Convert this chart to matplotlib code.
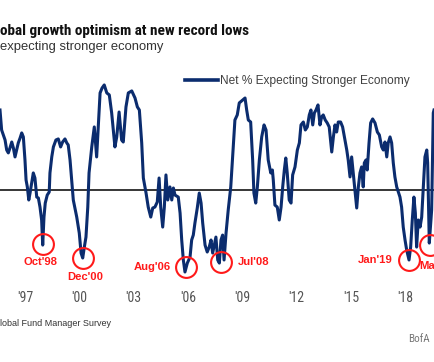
import matplotlib
matplotlib.use("Agg")
import matplotlib.pyplot as plt

# Net % of FMS investors expecting a stronger economy
dates = [
    1996.33, 1996.42, 1996.61, 1996.70, 1996.79, 1996.88, 1996.98, 1997.07, 1997.16, 1997.25,
    1997.34, 1997.44, 1997.53, 1997.62, 1997.71, 1997.77, 1997.84, 1997.92, 1997.99, 1998.08,
    1998.17, 1998.26, 1998.36, 1998.45, 1998.54, 1998.63, 1998.69, 1998.76, 1998.83, 1998.94,
    1999.05, 1999.09, 1999.19, 1999.28, 1999.42, 1999.55, 1999.68, 1999.79, 1999.92, 2000.02,
    2000.10, 2000.20, 2000.29, 2000.38, 2000.57, 2000.71, 2000.81, 2000.90, 2000.99, 2001.08,
    2001.18, 2001.25, 2001.40, 2001.54, 2001.67, 2001.86, 2001.97, 2002.09, 2002.23, 2002.37,
    2002.50, 2002.68, 2002.78, 2002.91, 2003.05, 2003.14, 2003.29, 2003.42, 2003.61, 2003.79,
    2003.92, 2004.03, 2004.16, 2004.25, 2004.40, 2004.52, 2004.66, 2004.77, 2004.89, 2005.02,
    2005.12, 2005.21, 2005.32, 2005.41, 2005.50, 2005.60, 2005.72, 2005.82, 2005.91, 2006.00,
    2006.18, 2006.28, 2006.37, 2006.46, 2006.55, 2006.68, 2006.83, 2006.92, 2007.01, 2007.10,
    2007.23, 2007.34, 2007.44, 2007.53, 2007.66, 2007.78, 2007.89, 2007.99, 2008.08, 2008.17,
    2008.26, 2008.36, 2008.45, 2008.54, 2008.63, 2008.71, 2008.82, 2008.94, 2009.08, 2009.22,
    2009.31, 2009.44, 2009.55, 2009.74, 2009.87, 2009.96, 2010.05, 2010.18, 2010.29, 2010.36,
    2010.46, 2010.55, 2010.66, 2010.79, 2010.92, 2011.03, 2011.15, 2011.29, 2011.38, 2011.43,
    2011.52, 2011.65, 2011.76, 2011.86, 2011.95, 2012.04, 2012.12, 2012.20, 2012.31, 2012.41,
    2012.50, 2012.63, 2012.76, 2012.87, 2012.96, 2013.09, 2013.20, 2013.31, 2013.42, 2013.51,
    2013.61, 2013.70, 2013.79, 2013.90, 2014.01, 2014.10, 2014.19, 2014.30, 2014.41, 2014.52,
    2014.66, 2014.75, 2014.84, 2014.93, 2015.02, 2015.15, 2015.26, 2015.39, 2015.49, 2015.57,
    2015.67, 2015.76, 2015.85, 2015.94, 2016.04, 2016.13, 2016.22, 2016.31, 2016.40, 2016.46,
    2016.55, 2016.62, 2016.72, 2016.81, 2016.92, 2017.05, 2017.18, 2017.29, 2017.42, 2017.51,
    2017.60, 2017.70, 2017.78, 2017.88, 2017.97, 2018.06, 2018.15, 2018.25, 2018.34, 2018.43,
    2018.52, 2018.61, 2018.71, 2018.80, 2018.93, 2019.02, 2019.11, 2019.20, 2019.28, 2019.35,
    2019.44, 2019.54, 2019.63, 2019.72, 2019.81, 2019.91, 2019.96, 2020.05, 2020.18, 2020.27,
    2020.31,
]
net_pct = [
    60.0, 45.0, 37.5, 30.0, 27.8, 31.5, 36.0, 31.5, 24.8, 30.0,
    35.3, 39.0, 42.8, 39.8, 22.5, 7.5, 2.3, -7.5, -2.3, 5.3,
    12.8, 9.0, -5.3, -6.0, -12.8, -22.5, -41.3, -20.3, -9.8, -3.8,
    -1.5, 12.8, 24.8, 32.3, 37.5, 38.3, 32.3, 36.0, 38.3, 35.3,
    33.8, 22.5, 7.5, -7.5, -20.3, -32.3, -47.3, -51.0, -42.8, -35.3,
    -12.8, 12.8, 32.3, 47.3, 24.8, 72.8, 76.5, 78.8, 72.8, 71.3,
    57.8, 32.3, 39.8, 58.5, 37.5, 36.0, 62.3, 72.8, 74.3, 69.0,
    62.3, 60.0, 35.3, 9.0, -2.3, -12.8, -20.3, -13.5, -12.8, -9.0,
    9.0, -12.8, -27.8, -12.8, 11.3, -7.5, 2.3, -7.5, 1.5, -3.8,
    -5.3, -17.3, -37.5, -52.5, -61.5, -54.8, -50.3, -37.5, -33.8, -24.8,
    -13.5, -2.3, -9.8, -24.8, -41.3, -46.5, -42.8, -37.5, -47.3, -41.3,
    -35.3, -52.5, -54.8, -37.5, -33.8, -52.5, -32.3, -15.0, 2.3, 32.3,
    52.5, 56.3, 65.3, 67.5, 69.0, 60.0, 52.5, 51.0, 22.5, -2.3,
    -9.8, 2.3, 22.5, 39.8, 48.8, 45.0, 22.5, 12.8, 15.0, 7.5,
    -11.3, -12.8, -22.5, -12.8, 2.3, 15.0, 24.0, 12.8, -7.5, -9.8,
    11.3, 17.3, 30.0, 35.3, 48.8, 51.0, 45.0, 47.3, 56.3, 60.0,
    48.8, 57.8, 60.0, 63.8, 48.8, 54.8, 56.3, 52.5, 50.3, 47.3,
    28.5, 39.8, 48.8, 43.5, 51.0, 51.0, 47.3, 37.5, 30.0, 22.5,
    9.8, 24.8, 12.8, 0.0, -13.5, 2.3, 12.8, 17.3, 2.3, 20.3,
    22.5, 15.0, 35.3, 50.3, 53.3, 50.3, 43.5, 41.3, 32.3, 30.0,
    36.0, 24.8, 35.3, 39.8, 35.3, 20.3, 9.8, 2.3, -1.5, -5.3,
    -12.8, -27.8, -37.5, -45.0, -52.5, -42.8, -22.5, -5.3, -17.3, -42.8,
    -22.5, -27.8, -20.3, 2.3, 24.8, 30.0, 20.3, -39.8, -15.0, 57.8,
    60.0,
]

trough_labels = ["Oct'98", "Dec'00", "Aug'06", "Jul'08", "Jan'19", "Ma"]
trough_dates = [1998.68, 2000.92, 2006.63, 2008.54, 2018.93, 2020.09]
trough_values = [-40.5, -51.0, -57.8, -54.0, -52.5, -41.3]

tick_years = [1997, 2000, 2003, 2006, 2009, 2012, 2015, 2018]
tick_labels = ["'97", "'00", "'03", "'06", "'09", "'12", "'15", "'18"]

NAVY = "#0b2c6e"
RED = "#ff1a1a"
W, H = 434, 362
NARROW = ["Roboto Condensed", "Liberation Sans Narrow", "Liberation Sans", "DejaVu Sans"]
SANS = ["Liberation Sans", "DejaVu Sans"]


def fx(x):
    return x / W


def fy(y):
    return 1 - y / H


def fit_width(txt, target_px):
    """Scale a text's font size so it spans target_px pixels."""
    fig.canvas.draw()
    w = txt.get_window_extent(fig.canvas.get_renderer()).width
    txt.set_fontsize(txt.get_fontsize() * target_px / w)


fig = plt.figure(figsize=(W / 100, H / 100), dpi=100)
ax = fig.add_axes([0, fy(285), 1, 220 / H])

ax.plot(dates, net_pct, color=NAVY, lw=2.2, solid_joinstyle="round",
        label="Net % Expecting Stronger Economy")
ax.axhline(0, color="black", lw=1.1, zorder=1)

ax.set_xlim(1996.33, 2020.31)
ax.set_ylim(-71.25, 93.75)

# circles on the troughs + red labels
label_offsets = [(-1.8, -13, "center"), (1.4, -13.7, "center"), (-11.2, 0, "right"),
                 (12.2, 0, "left"), (-11.5, 0, "right"), (-7.5, -15, "left")]
ax.plot(trough_dates, trough_values, "o", ms=15, mfc="none", mec=RED, mew=1.5,
        clip_on=False)
for lab, d, v, (dx, dy, ha) in zip(trough_labels, trough_dates, trough_values, label_offsets):
    ax.annotate(lab, (d, v), xytext=(dx, dy), textcoords="offset points",
                ha=ha, va="center", color=RED, fontsize=8.1, fontweight="bold",
                family=SANS, annotation_clip=False)

ax.set_xticks([y + 0.72 for y in tick_years])
ax.set_xticklabels(tick_labels, family=NARROW, fontsize=10, color="#555555")
ax.tick_params(axis="x", length=0, pad=4)
ax.set_yticks([])
for s in ax.spines.values():
    s.set_visible(False)

leg = ax.legend(loc="center left", bbox_to_anchor=(fx(185), fy(81)),
                bbox_transform=fig.transFigure, frameon=False, borderpad=0,
                borderaxespad=0, handlelength=2.75, handletextpad=0.15,
                prop={"family": SANS, "size": 8.6})
for t in leg.get_texts():
    t.set_color("#404040")
for h in leg.get_lines():
    h.set_linewidth(2.6)

title = fig.text(fx(0), fy(35), "obal growth optimism at new record lows", ha="left",
                 va="baseline", fontsize=10.8, fontweight="bold", family=NARROW,
                 color="#111111")
subtitle = fig.text(fx(0), fy(50), "expecting stronger economy", ha="left", va="baseline",
                    fontsize=9.5, family=SANS, color="#333333")
fit_width(title, 250)
fit_width(subtitle, 163)

fig.text(fx(0), fy(324), "lobal Fund Manager Survey", ha="left", va="center",
         fontsize=6.5, family=SANS, color="#333333")
fig.text(fx(430), fy(339), "BofA", ha="right", va="center",
         fontsize=8, family=NARROW, color="#777777")

fig.savefig("out.png", dpi=100)
